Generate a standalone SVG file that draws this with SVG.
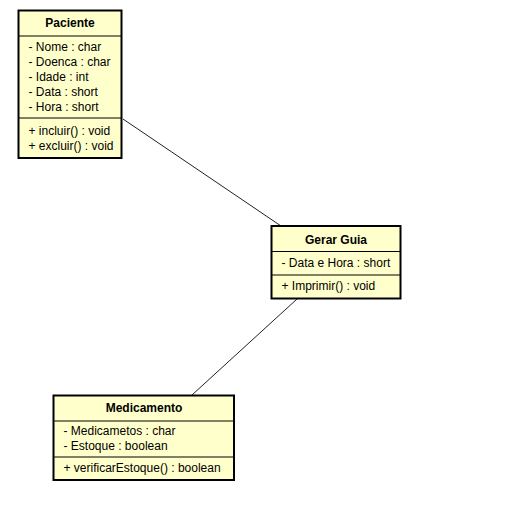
<svg xmlns="http://www.w3.org/2000/svg" width="512" height="508" viewBox="0 0 512 508">
  <style>
    .box { fill: #ffffcc; stroke: #000; stroke-width: 2; }
    .sep { stroke: #000; stroke-width: 1; }
    .title { font-family: "Liberation Sans", Arial, sans-serif; font-size: 12px; font-weight: bold; fill: #000; text-anchor: middle; }
    .item { font-family: "Liberation Sans", Arial, sans-serif; font-size: 12px; fill: #000; }
    .assoc { stroke: #222; stroke-width: 1; fill: none; }
  </style>
  <rect width="512" height="508" fill="#fff"/>

  <!-- associations -->
  <g id="connectors">
    <line class="assoc" x1="123" y1="119" x2="281" y2="226"/>
    <line class="assoc" x1="297" y1="299" x2="192" y2="395"/>
  </g>

  <!-- class Paciente -->
  <g id="paciente">
    <rect class="box" x="18.5" y="10.5" width="103" height="147.5"/>
    <line class="sep" x1="18.5" y1="36" x2="121.5" y2="36"/>
    <line class="sep" x1="18.5" y1="118" x2="121.5" y2="118"/>
    <text class="title" x="70" y="26.5">Paciente</text>
    <text class="item" x="28.5" y="50.5">- Nome : char</text>
    <text class="item" x="28.5" y="65.5">- Doenca : char</text>
    <text class="item" x="28.5" y="80.5">- Idade : int</text>
    <text class="item" x="28.5" y="95.5">- Data : short</text>
    <text class="item" x="28.5" y="110.5">- Hora : short</text>
    <text class="item" x="28.5" y="134.5">+ incluir() : void</text>
    <text class="item" x="28.5" y="149.5">+ excluir() : void</text>
  </g>

  <!-- class Gerar Guia -->
  <g id="gerar-guia">
    <rect class="box" x="271.5" y="226" width="129" height="72.5"/>
    <line class="sep" x1="271.5" y1="251.5" x2="400.5" y2="251.5"/>
    <line class="sep" x1="271.5" y1="275" x2="400.5" y2="275"/>
    <text class="title" x="336" y="244">Gerar Guia</text>
    <text class="item" x="281.5" y="267">- Data e Hora : short</text>
    <text class="item" x="281.5" y="289.5">+ Imprimir() : void</text>
  </g>

  <!-- class Medicamento -->
  <g id="medicamento">
    <rect class="box" x="53.5" y="395.5" width="180.5" height="84.5"/>
    <line class="sep" x1="53.5" y1="421" x2="234" y2="421"/>
    <line class="sep" x1="53.5" y1="457" x2="234" y2="457"/>
    <text class="title" x="144" y="412">Medicamento</text>
    <text class="item" x="63.5" y="434.5">- Medicametos : char</text>
    <text class="item" x="63.5" y="449.5">- Estoque : boolean</text>
    <text class="item" x="63.5" y="472">+ verificarEstoque() : boolean</text>
  </g>
</svg>
